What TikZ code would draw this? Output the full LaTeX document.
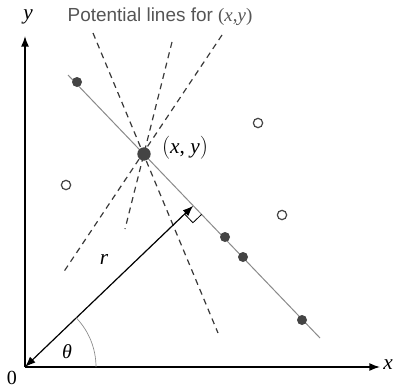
\documentclass[tikz,border=0pt]{standalone}
\usepackage{fontspec}
\setmainfont{Liberation Serif}
\newfontfamily\titlefont{Liberation Sans}
\usetikzlibrary{arrows.meta,calc}
\definecolor{dotgray}{HTML}{444444}
\definecolor{linegray}{HTML}{8A8A8A}
\definecolor{dashgray}{HTML}{3A3A3A}
\definecolor{titlegray}{HTML}{555555}
\tikzset{
  axis/.style={line width=1.1pt,-{Latex[length=8pt,width=6pt]}},
  mainline/.style={line width=0.75pt,linegray},
  potline/.style={line width=0.9pt,dashgray,dash pattern=on 4.5pt off 3.5pt},
  fdot/.style={circle,fill=dotgray,inner sep=0pt,minimum size=7.5pt},
  bigdot/.style={circle,fill=dotgray,inner sep=0pt,minimum size=10pt},
  odot/.style={circle,draw=dotgray,line width=0.9pt,fill=white,inner sep=0pt,minimum size=7pt},
  rvec/.style={line width=0.9pt,{Latex[length=8pt,width=6pt]}-{Latex[length=8pt,width=6pt]}},
  lab/.style={inner sep=0pt,font=\fontsize{16}{18}\selectfont\itshape}
}
\begin{document}
\begin{tikzpicture}[x=0.75pt,y=0.75pt]
\useasboundingbox (0,0) rectangle (398,390);
% axes
\coordinate (O) at (25,23);
\coordinate (xend) at (380,23);
\coordinate (yend) at (25,354);
\draw[axis] (O) -- (xend);
\draw[axis] (O) -- (yend);
\node[lab] (xlab) at (388,25) {x};
\node[lab] (ylab) at (28,373) {y};
\node[inner sep=0pt,font=\fontsize{15}{17}\selectfont] (zero) at (12,12) {0};
% title
\node[inner sep=0pt,text=titlegray] (title) at (160,373)
  {\titlefont\fontsize{14.2}{16}\selectfont Potential lines for \rmfamily(\textit{x},\textit{y})};
% main line
\coordinate (L1) at (68,315);
\coordinate (L2) at (320,52);
\draw[mainline] (L1) -- (L2);
% potential lines through (x,y)
\coordinate (a1) at (93,357); \coordinate (a2) at (218,57);
\coordinate (b1) at (172,348); \coordinate (b2) at (125,161);
\coordinate (c1) at (222,355); \coordinate (c2) at (63,117);
\draw[potline] (a1) -- (a2);
\draw[potline] (b1) -- (b2);
\draw[potline] (c1) -- (c2);
% points
\node[fdot] (d1) at (77,308) {};
\node[bigdot] (P) at (144,236) {};
\node[fdot] (d3) at (225,153) {};
\node[fdot] (d4) at (243,133) {};
\node[fdot] (d5) at (302,70) {};
\node[odot] (o1) at (66,205) {};
\node[odot] (o2) at (258,267) {};
\node[odot] (o3) at (282,175) {};
\node[inner sep=0pt,font=\fontsize{16}{18}\selectfont] (plab) at (185,242) {$\bigl($\textit{x}, \textit{y}$\bigr)$};
% perpendicular
\coordinate (F) at ($(L1)!(O)!(L2)$);
\coordinate (s1) at ($(F)!9pt!(O)$);
\coordinate (s2) at ($(F)!9pt!(L2)$);
\coordinate (s3) at ($(s1)+(s2)-(F)$);
\draw[line width=0.6pt] (s1) -- (s3) -- (s2);
\draw[rvec] (O) -- (F);
\node[lab] (rlab) at (104,131) {r};
% angle
\draw[line width=0.5pt,linegray] ($(O)+(71,0)$) arc[start angle=0,end angle=44,radius=53.25pt];
\node[lab,font=\fontsize{15}{17}\selectfont\itshape] (thlab) at (67,38) {θ};
\end{tikzpicture}
\end{document}
